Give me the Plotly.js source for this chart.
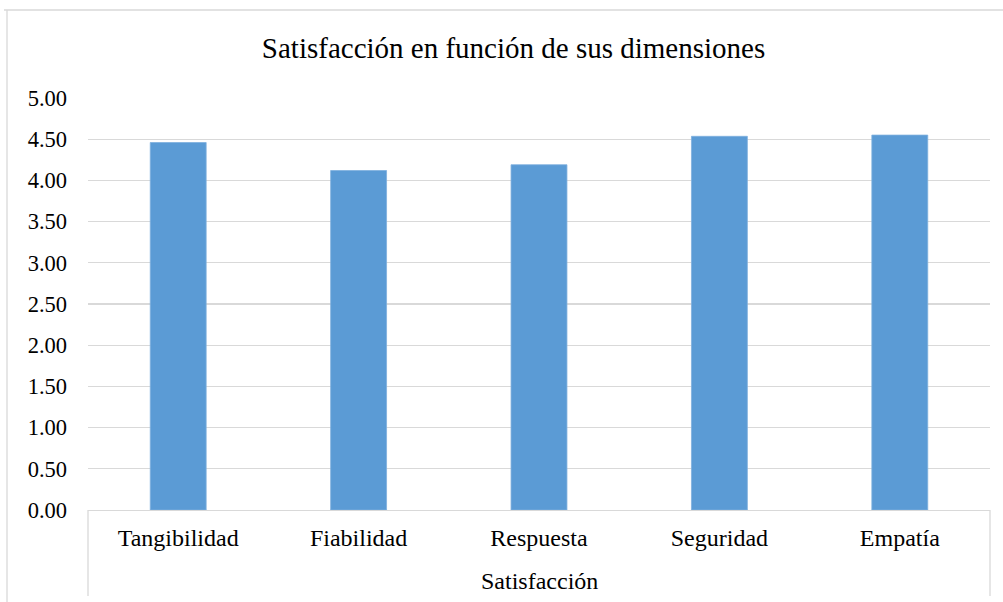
<!DOCTYPE html>
<html>
<head>
<meta charset="utf-8">
<script src="https://cdn.plot.ly/plotly-3.0.1.min.js"></script>
<style>html,body{margin:0;padding:0;background:#fff;}#chart{width:1003px;height:602px;}</style>
</head>
<body>
<div id="chart"></div>
<script>
const categories = ["Tangibilidad", "Fiabilidad", "Respuesta", "Seguridad", "Empatía"];
const values = [4.46, 4.12, 4.19, 4.535, 4.55];
const groupLabel = "Satisfacción";
const chartTitle = "Satisfacción en función de sus dimensiones";
const yTicks = [0, 0.5, 1, 1.5, 2, 2.5, 3, 3.5, 4, 4.5, 5];

const W = 1003, H = 602;
const m = {l: 88, r: 13, t: 98, b: 92};
const pw = W - m.l - m.r, ph = H - m.t - m.b;
const px = x => (x - m.l) / pw;
const py = y => (H - m.b - y) / ph;

const font = "Liberation Serif, Times New Roman, Times, serif";

const trace = {
  type: 'bar',
  x: categories,
  y: values,
  marker: {color: '#5b9bd5', line: {color: '#7fb0de', width: 0.8}},
  width: 0.31,
  hoverinfo: 'x+y'
};

const layout = {
  width: W, height: H,
  margin: m,
  paper_bgcolor: '#ffffff',
  plot_bgcolor: '#ffffff',
  showlegend: false,
  font: {family: font, color: '#000'},
  title: {text: chartTitle, font: {family: font, size: 29, color: '#000'}, x: 0.512, xanchor: 'center', y: 1 - 48/H, yanchor: 'middle'},
  xaxis: {
    type: 'category',
    range: [-0.5, 4.5],
    showgrid: false,
    zeroline: false,
    showline: true,
    linecolor: '#d9d9d9',
    linewidth: 1.3,
    ticks: '',
    tickfont: {family: font, size: 24, color: '#000'},
    ticklabelstandoff: 6
  },
  yaxis: {
    range: [0, 5],
    tickvals: yTicks,
    tickformat: '.2f',
    showgrid: true,
    gridcolor: '#d9d9d9',
    gridwidth: 1.3,
    zeroline: false,
    showline: false,
    ticks: '',
    tickfont: {family: font, size: 22.5, color: '#000'},
    ticklabelstandoff: 20
  },
  annotations: [{
    text: groupLabel, xref: 'paper', yref: 'paper',
    x: 0.5, y: py(581), xanchor: 'center', yanchor: 'middle',
    showarrow: false, font: {family: font, size: 24, color: '#000'}
  }],
  shapes: [
    {type: 'line', xref: 'paper', yref: 'paper', x0: 0, x1: 0, y0: 0, y1: py(596), line: {color: '#d9d9d9', width: 1.3}},
    {type: 'line', xref: 'paper', yref: 'paper', x0: 1, x1: 1, y0: 0, y1: py(596), line: {color: '#d9d9d9', width: 1.3}},
    {type: 'line', xref: 'paper', yref: 'paper', x0: px(4), x1: px(1003), y0: py(10), y1: py(10), line: {color: '#d9d9d9', width: 1.3}},
    {type: 'line', xref: 'paper', yref: 'paper', x0: px(7), x1: px(7), y0: py(10), y1: py(602), line: {color: '#d9d9d9', width: 1.3}}
  ]
};

Plotly.newPlot('chart', [trace], layout, {displayModeBar: false, staticPlot: true});
</script>
</body>
</html>
